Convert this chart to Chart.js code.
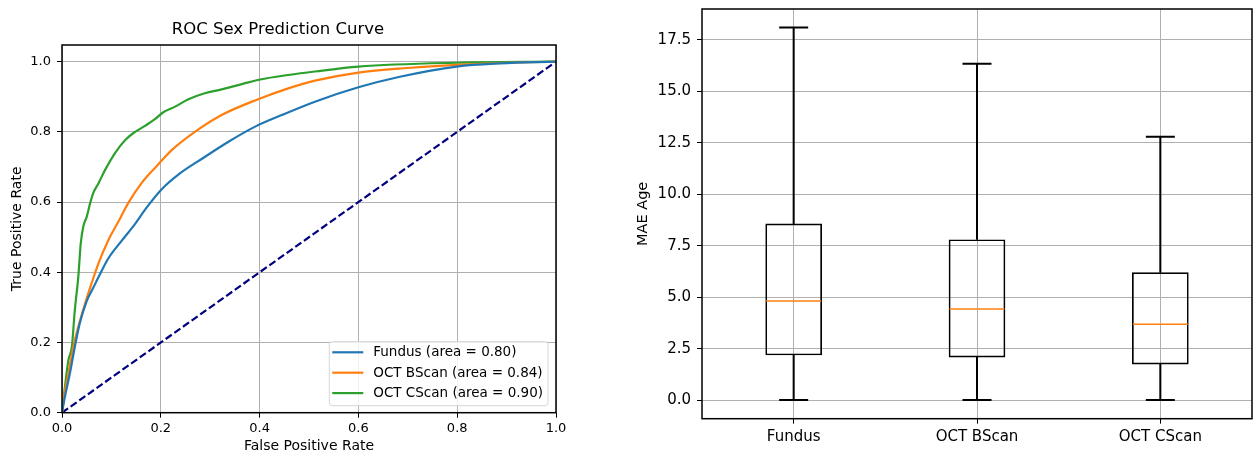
<!DOCTYPE html>
<html>
<head>
<meta charset="utf-8">
<script src="https://cdn.jsdelivr.net/npm/chart.js@4"></script>
<style>
  body { margin: 0; background: #fff; }
  #wrap { position: relative; width: 1260px; height: 455px; }
  #roc { position: absolute; left: 0; top: 0; }
  #box { position: absolute; left: 620px; top: 0; }
</style>
</head>
<body>
<div id="wrap">
  <canvas id="roc" width="600" height="455"></canvas>
  <canvas id="box" width="640" height="455"></canvas>
</div>
<script>
// ROC curves
const fundusFpr = [0, 0.006, 0.016, 0.026, 0.036, 0.05, 0.063, 0.077, 0.094, 0.121, 0.148, 0.17, 0.2, 0.24, 0.285, 0.337, 0.391, 0.445, 0.512, 0.6, 0.684, 0.799, 0.887, 1];
const fundusTpr = [0, 0.046, 0.112, 0.188, 0.255, 0.318, 0.355, 0.395, 0.44, 0.49, 0.538, 0.582, 0.634, 0.683, 0.725, 0.772, 0.815, 0.848, 0.886, 0.927, 0.957, 0.986, 0.995, 1];

const bscanFpr = [0, 0.005, 0.013, 0.023, 0.033, 0.047, 0.06, 0.074, 0.094, 0.114, 0.134, 0.161, 0.19, 0.222, 0.269, 0.323, 0.397, 0.458, 0.512, 0.6, 0.7, 0.799, 0.9, 1];
const bscanTpr = [0, 0.055, 0.112, 0.188, 0.245, 0.312, 0.369, 0.426, 0.492, 0.544, 0.597, 0.654, 0.7, 0.748, 0.8, 0.848, 0.893, 0.924, 0.946, 0.969, 0.982, 0.991, 0.997, 1];

const cscanFpr = [0, 0.006, 0.013, 0.02, 0.026, 0.033, 0.038, 0.043, 0.05, 0.057, 0.063, 0.074, 0.087, 0.107, 0.128, 0.148, 0.168, 0.188, 0.205, 0.229, 0.256, 0.289, 0.323, 0.364, 0.404, 0.458, 0.512, 0.6, 0.799, 1];
const cscanTpr = [0, 0.074, 0.15, 0.188, 0.293, 0.387, 0.483, 0.53, 0.558, 0.597, 0.625, 0.654, 0.691, 0.739, 0.777, 0.8, 0.817, 0.836, 0.856, 0.872, 0.893, 0.91, 0.921, 0.936, 0.95, 0.962, 0.972, 0.986, 0.997, 1];

const rocLabels = ["Fundus (area = 0.80)", "OCT BScan (area = 0.84)", "OCT CScan (area = 0.90)"];
const rocTicks = [0, 0.2, 0.4, 0.6, 0.8, 1.0];

// box plot stats
const boxCats = ["Fundus", "OCT BScan", "OCT CScan"];
const boxMin = [0, 0, 0];
const boxQ1 = [2.19, 2.09, 1.75];
const boxMed = [4.81, 4.42, 3.69];
const boxQ3 = [8.56, 7.79, 6.19];
const boxMax = [18.1, 16.35, 12.8];
const maeTicks = [0, 2.5, 5, 7.5, 10, 12.5, 15, 17.5];

Chart.defaults.font.family = "'DejaVu Sans', sans-serif";
Chart.defaults.font.size = 13;
Chart.defaults.color = "#000";

const toXY = (xs, ys) => xs.map((x, i) => ({ x: x, y: ys[i] }));

// black box round the plot area
const framePlugin = {
  id: "frame",
  afterDatasetsDraw(chart) {
    const a = chart.chartArea, ctx = chart.ctx;
    ctx.save();
    ctx.strokeStyle = "#000";
    ctx.lineWidth = 1.5;
    ctx.strokeRect(a.left, a.top, a.right - a.left, a.bottom - a.top);
    ctx.restore();
  }
};

// matplotlib style legend in lower right corner
const rocLegend = {
  id: "rocLegend",
  afterDraw(chart) {
    const a = chart.chartArea, ctx = chart.ctx;
    const sets = chart.data.datasets.filter(d => d.label);
    ctx.save();
    ctx.font = "13.5px 'DejaVu Sans', sans-serif";
    let tw = 0;
    sets.forEach(d => { tw = Math.max(tw, ctx.measureText(d.label).width); });
    const w = 44 + tw + 5, h = 64;
    const x = a.right - 8 - w, y = a.bottom - 7 - h;
    ctx.beginPath();
    ctx.roundRect(x, y, w, h, 3);
    ctx.fillStyle = "rgba(255,255,255,0.8)";
    ctx.fill();
    ctx.strokeStyle = "#d6d6d6";
    ctx.lineWidth = 1;
    ctx.stroke();
    sets.forEach((d, i) => {
      const ry = y + 10.6 + i * 20.4;
      ctx.strokeStyle = d.borderColor;
      ctx.lineWidth = 2.2;
      ctx.beginPath();
      ctx.moveTo(x + 3, ry);
      ctx.lineTo(x + 34, ry);
      ctx.stroke();
      ctx.fillStyle = "#000";
      ctx.textBaseline = "middle";
      ctx.fillText(d.label, x + 44, ry + 0.5);
    });
    ctx.restore();
  }
};

const lineSet = (label, xs, ys, color) => ({
  label: label,
  data: toXY(xs, ys),
  showLine: true,
  borderColor: color,
  backgroundColor: color,
  borderWidth: 2.2,
  pointRadius: 0,
  cubicInterpolationMode: "monotone"
});

new Chart(document.getElementById("roc"), {
  type: "scatter",
  data: {
    datasets: [
      lineSet(rocLabels[0], fundusFpr, fundusTpr, "#1f77b4"),
      lineSet(rocLabels[1], bscanFpr, bscanTpr, "#ff7f0e"),
      lineSet(rocLabels[2], cscanFpr, cscanTpr, "#2ca02c"),
      {
        data: [{ x: 0, y: 0 }, { x: 1, y: 1 }],
        showLine: true,
        borderColor: "#000080",
        borderWidth: 2.2,
        borderDash: [7.4, 3.2],
        pointRadius: 0
      }
    ]
  },
  options: {
    responsive: false,
    animation: false,
    layout: { padding: { left: 0, right: 44, top: 0, bottom: 0 } },
    plugins: {
      legend: { display: false },
      tooltip: { enabled: false },
      title: {
        display: true,
        text: "ROC Sex Prediction Curve",
        color: "#000",
        font: { size: 16.5, weight: "normal" },
        padding: { top: 20, bottom: 5.2 },
        align: "center"
      }
    },
    scales: {
      x: {
        type: "linear",
        min: 0, max: 1,
        afterBuildTicks: s => { s.ticks = rocTicks.map(v => ({ value: v })); },
        afterFit: s => { s.height = 42.3; },
        ticks: { callback: v => v.toFixed(1), padding: 3, maxRotation: 0 },
        grid: { color: "#b0b0b0", lineWidth: 1, tickColor: "#000", tickLength: 5, tickWidth: 1 },
        border: { display: false },
        title: { display: true, text: "False Positive Rate", font: { size: 14 }, padding: { top: 0, bottom: 0.5 } }
      },
      y: {
        type: "linear",
        min: 0, max: 1.0475,
        afterBuildTicks: s => { s.ticks = rocTicks.map(v => ({ value: v })); },
        afterFit: s => { s.width = 62; s.paddingTop = 0; s.paddingBottom = 0; },
        ticks: { callback: v => v.toFixed(1), padding: 6 },
        grid: { color: "#b0b0b0", lineWidth: 1, tickColor: "#000", tickLength: 5, tickWidth: 1 },
        border: { display: false },
        title: { display: true, text: "True Positive Rate", font: { size: 14 }, padding: { top: 9, bottom: 0 } }
      }
    }
  },
  plugins: [framePlugin, rocLegend]
});

// whiskers, caps and medians on top of the floating bars
const boxPlugin = {
  id: "boxParts",
  afterDatasetsDraw(chart) {
    const xs = chart.scales.x, ys = chart.scales.y, ctx = chart.ctx;
    ctx.save();
    boxCats.forEach((c, i) => {
      const cx = xs.getPixelForValue(i);
      ctx.strokeStyle = "#000";
      ctx.lineWidth = 2;
      ctx.beginPath();
      ctx.moveTo(cx, ys.getPixelForValue(boxQ3[i]));
      ctx.lineTo(cx, ys.getPixelForValue(boxMax[i]));
      ctx.moveTo(cx, ys.getPixelForValue(boxQ1[i]));
      ctx.lineTo(cx, ys.getPixelForValue(boxMin[i]));
      ctx.moveTo(cx - 14.5, ys.getPixelForValue(boxMax[i]));
      ctx.lineTo(cx + 14.5, ys.getPixelForValue(boxMax[i]));
      ctx.moveTo(cx - 14.5, ys.getPixelForValue(boxMin[i]));
      ctx.lineTo(cx + 14.5, ys.getPixelForValue(boxMin[i]));
      ctx.stroke();
      ctx.strokeStyle = "#ff7f0e";
      ctx.lineWidth = 1.5;
      ctx.beginPath();
      ctx.moveTo(cx - 27.5, ys.getPixelForValue(boxMed[i]));
      ctx.lineTo(cx + 27.5, ys.getPixelForValue(boxMed[i]));
      ctx.stroke();
    });
    ctx.restore();
  }
};

new Chart(document.getElementById("box"), {
  type: "bar",
  data: {
    labels: boxCats,
    datasets: [{
      data: boxQ1.map((q, i) => [q, boxQ3[i]]),
      backgroundColor: "rgba(0,0,0,0)",
      borderColor: "#000",
      borderWidth: 1,
      borderSkipped: false,
      barThickness: 56
    }]
  },
  options: {
    responsive: false,
    animation: false,
    layout: { padding: { left: 0, right: 8, top: 9, bottom: 0 } },
    plugins: { legend: { display: false }, tooltip: { enabled: false } },
    scales: {
      x: {
        offset: true,
        afterFit: s => { s.height = 36.3; s.paddingLeft = 0; s.paddingRight = 0; },
        ticks: { padding: 4, maxRotation: 0, font: { size: 15 } },
        grid: { offset: false, color: "#b0b0b0", lineWidth: 1, tickColor: "#000", tickLength: 5, tickWidth: 1 },
        border: { display: false }
      },
      y: {
        min: -0.905, max: 19.005,
        afterBuildTicks: s => { s.ticks = maeTicks.map(v => ({ value: v })); },
        afterFit: s => { s.width = 82; s.paddingTop = 0; s.paddingBottom = 0; },
        ticks: { callback: v => v.toFixed(1), padding: 6, font: { size: 15 } },
        grid: { color: "#b0b0b0", lineWidth: 1, tickColor: "#000", tickLength: 5, tickWidth: 1 },
        border: { display: false },
        title: { display: true, text: "MAE Age", font: { size: 14.5 }, padding: { top: 14.5, bottom: 0 } }
      }
    }
  },
  plugins: [boxPlugin, framePlugin]
});
</script>
</body>
</html>
